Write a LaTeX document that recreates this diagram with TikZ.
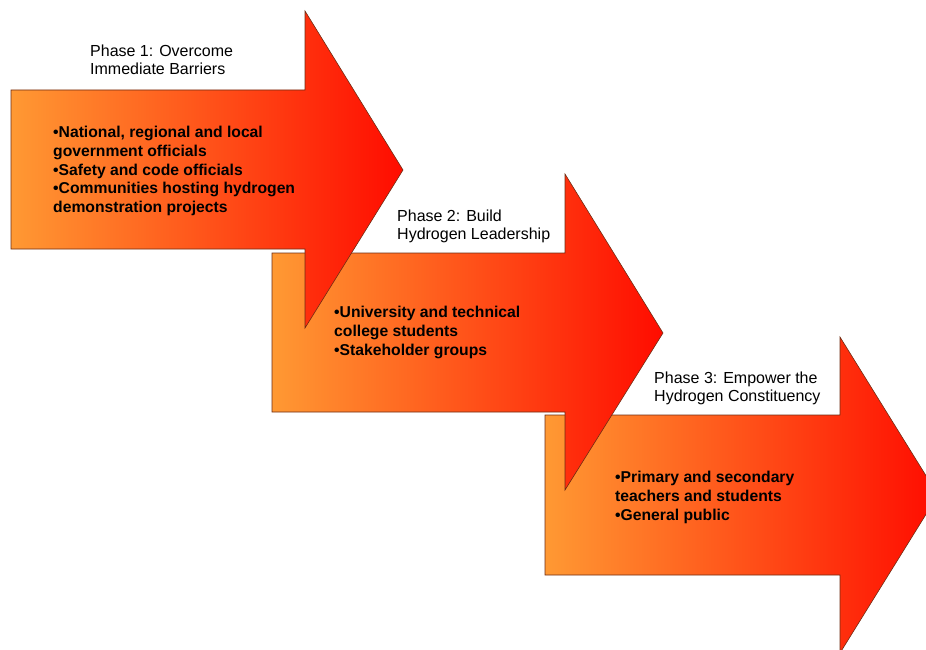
\documentclass[tikz,border=0pt]{standalone}
\usepackage{fontspec}
\setmainfont{Liberation Sans}
\usepackage{tikz}

\definecolor{phaseorange}{RGB}{255,153,51}
\definecolor{phasemid}{RGB}{255,112,36}
\definecolor{phasered}{RGB}{255,12,0}
\definecolor{phaseedge}{RGB}{110,45,20}

\begin{document}
\begin{tikzpicture}[x=1pt,y=-1pt,
  phasearrow/.style={draw=phaseedge,line width=0.6pt,
    left color=phaseorange,middle color=phasemid,right color=phasered},
  phasehead/.style={anchor=north west,inner sep=0pt,align=left,
    font=\fontsize{16}{18}\selectfont},
  phaselist/.style={anchor=north west,inner sep=0pt,align=left,
    font=\fontsize{15.7}{18.8}\selectfont\bfseries}]

\useasboundingbox (0,0) rectangle (926,650);
\clip (0,0) rectangle (926,650);

\path[phasearrow]% phase 3
(545,415)--(840,415)--(840,337)--(938,495)--(840,653)--(840,575)--(545,575)--cycle;
\path[phasearrow]% phase 2
(272,253)--(565,253)--(565,174)--(663,333)--(565,490)--(565,412)--(272,412)--cycle;
\path[phasearrow]% phase 1
(11,90)--(305,90)--(305,11)--(403,170)--(305,328)--(305,249)--(11,249)--cycle;

\node[phasehead] (head1) at (90,44.5)  {Phase 1: Overcome\\Immediate Barriers};
\node[phaselist] (list1) at (53,126) {•National, regional and local\\government officials\\•Safety and code officials\\•Communities hosting hydrogen\\demonstration projects};

\node[phasehead] (head2) at (397,209.5) {Phase 2: Build\\Hydrogen Leadership};
\node[phaselist] (list2) at (334,306) {•University and technical\\college students\\•Stakeholder groups};

\node[phasehead] (head3) at (654,371.5) {Phase 3: Empower the\\Hydrogen Constituency};
\node[phaselist] (list3) at (615,471) {•Primary and secondary\\teachers and students\\•General public};

\end{tikzpicture}
\end{document}
